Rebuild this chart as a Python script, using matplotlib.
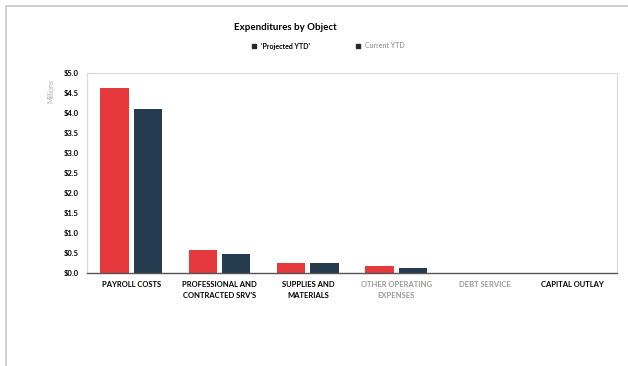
import matplotlib.pyplot as plt
import numpy as np
from matplotlib.patches import Rectangle

plt.rcParams['font.family'] = ['Lato', 'DejaVu Sans']

# --- data (millions) ---
categories = ['PAYROLL COSTS', 'PROFESSIONAL AND\nCONTRACTED SRV\'S', 'SUPPLIES AND\nMATERIALS',
              'OTHER OPERATING\nEXPENSES', 'DEBT SERVICE', 'CAPITAL OUTLAY']
projected_ytd = [4.62, 0.57, 0.26, 0.18, 0.0, 0.0]
current_ytd = [4.10, 0.48, 0.24, 0.13, 0.0, 0.0]
yticks = np.arange(0, 5.01, 0.5)

red = '#E5393E'
navy = '#243B50'

fig = plt.figure(figsize=(6.28, 3.66), dpi=100)
ax = fig.add_axes([87 / 628, 1 - 273 / 366, 530 / 628, 200 / 366])

x = np.arange(len(categories))
w = 0.32
ax.bar(x - 0.19, projected_ytd, w, color=red, label="'Projected YTD'")
ax.bar(x + 0.19, current_ytd, w, color=navy, label='Current YTD')

ax.set_xlim(-0.5, len(categories) - 0.5)
ax.set_ylim(0, 5.0)
ax.set_yticks(yticks)
ax.set_yticklabels(['$%.1f' % v for v in yticks], fontsize=5.5, fontweight='bold')
ax.set_xticks(x)
ax.set_xticklabels(categories, fontsize=5.5, fontweight='bold', linespacing=1.6)
for lbl in ax.get_xticklabels()[3:5]:
    lbl.set_color('#9a9a9a')
ax.tick_params(length=0, pad=6)

for s in ['top', 'right', 'left']:
    ax.spines[s].set_color('#d8d8d8')
    ax.spines[s].set_linewidth(0.8)
ax.spines['bottom'].set_color('#555555')
ax.spines['bottom'].set_linewidth(1.0)

ax.set_ylabel('Millions', fontsize=5, color='#b0b0b0')
ax.yaxis.set_label_coords(-0.062, 0.91)

fig.text(285 / 628, 1 - 28 / 366, 'Expenditures by Object', ha='center', va='center',
         fontsize=7, fontweight='bold')
leg = fig.legend(loc='center', bbox_to_anchor=(328 / 628, 1 - 46 / 366), ncol=2,
                 frameon=False, prop={'size': 5, 'weight': 'bold'}, handlelength=0.6,
                 handleheight=0.6, columnspacing=6.6, handletextpad=0.7)
for h in leg.legend_handles:
    h.set_color('#2a2a2a')
leg.get_texts()[1].set_color('#a0a0a0')

# outer chart frame
fig.patches.append(Rectangle((6 / 628, -0.1), 1.1, 1 - 6 / 366 + 0.1, transform=fig.transFigure,
                             fill=False, edgecolor='#c8c8c8', linewidth=1.2))

fig.savefig('out.png', dpi=100)
